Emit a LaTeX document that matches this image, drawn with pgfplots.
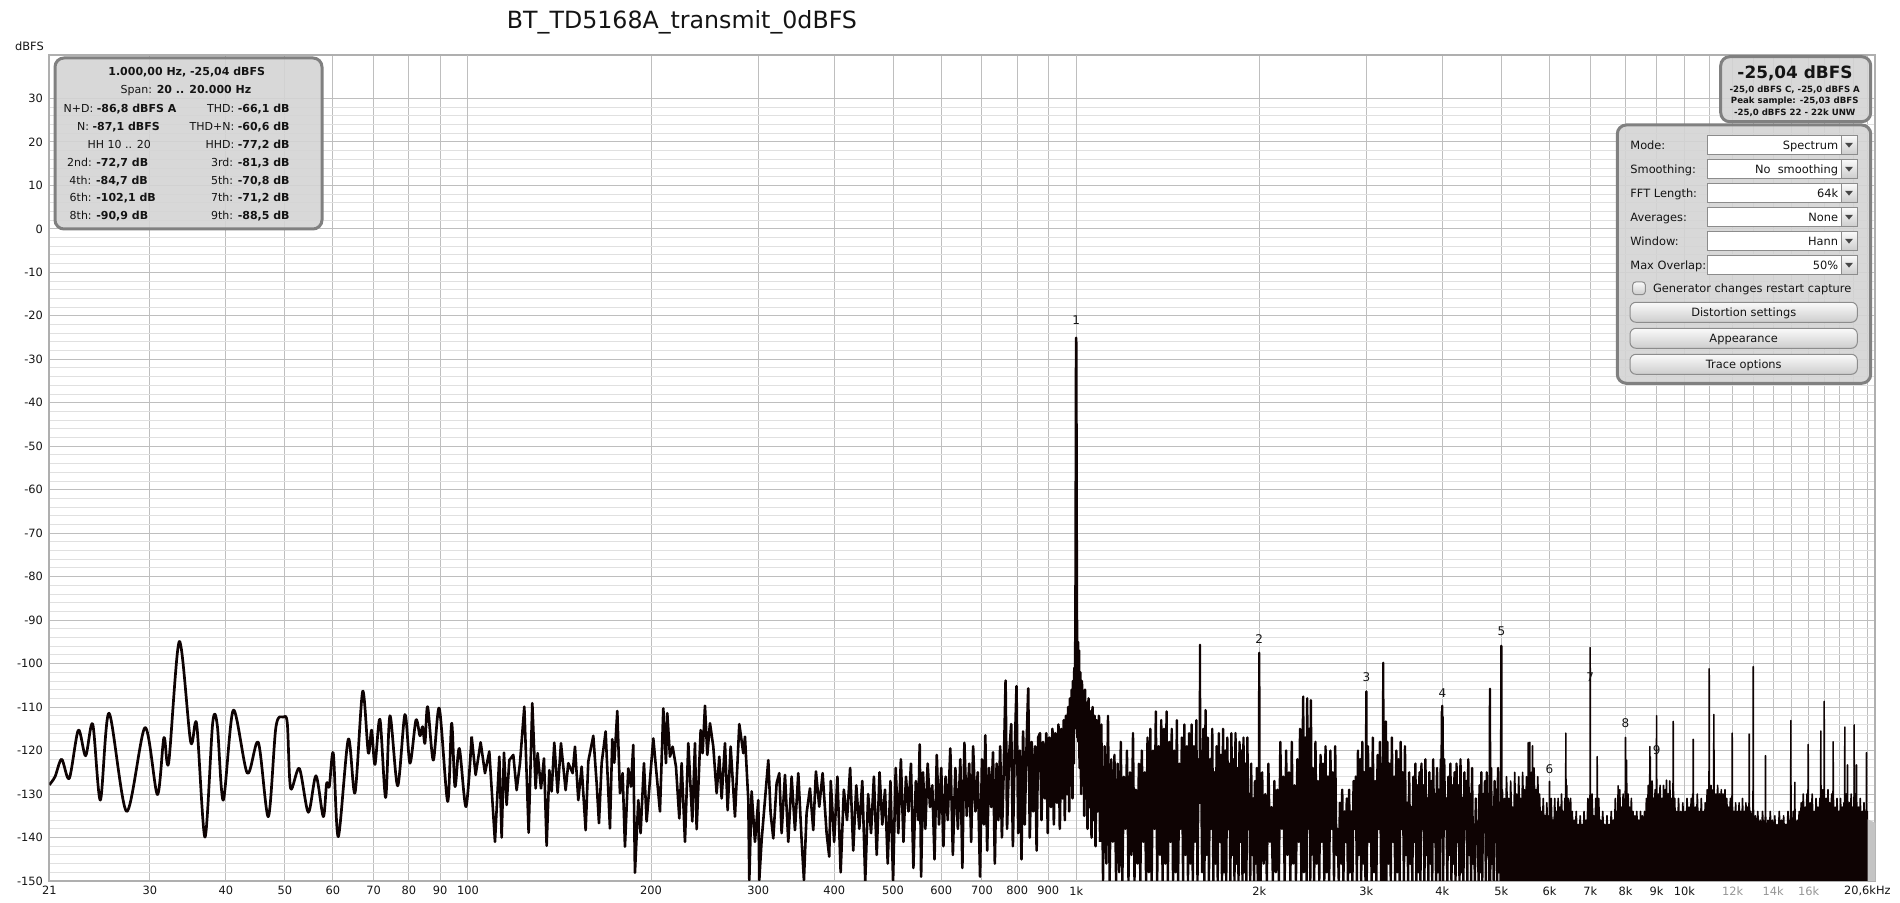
\documentclass[border=0pt]{standalone}
\usepackage{fontspec}
\setmainfont{DejaVu Sans}
\usepackage{pgfplots}
\pgfplotsset{compat=1.18}
\definecolor{txt}{RGB}{20,20,20}
\definecolor{trace}{RGB}{14,3,3}
\definecolor{gridmaj}{RGB}{190,190,190}
\definecolor{gridmin}{RGB}{224,224,224}
\definecolor{griddec}{RGB}{135,135,135}
\definecolor{axln}{RGB}{175,175,175}
\definecolor{boxfill}{RGB}{212,212,212}
\definecolor{boxline}{RGB}{128,128,128}
\definecolor{lbl12}{RGB}{150,150,150}
\definecolor{ddline}{RGB}{140,140,140}
\definecolor{btntop}{RGB}{250,250,250}
\definecolor{btnbot}{RGB}{205,205,205}
\definecolor{arrowc}{RGB}{70,70,70}
\definecolor{beyond}{RGB}{196,196,196}
\newcommand\fs[1]{\fontsize{#1}{#1}\selectfont}
\begin{document}
\begin{tikzpicture}
\useasboundingbox (0,0) rectangle (950pt,451.5pt);
\begin{axis}[
  at={(24.65pt,11pt)}, anchor=south west,
  scale only axis, width=913pt, height=413pt,
  xmode=log, xmin=20.5, xmax=20600, ymin=-150, ymax=40,
  axis line style={draw=axln, line width=1pt},
  xtick={20.5,30,40,50,60,70,80,90,200,300,400,500,600,700,800,900,2000,3000,4000,5000,6000,7000,8000,9000,11000,12000,13000,14000,15000,16000,17000,18000,19000,20000},
  xticklabels={21,30,40,50,60,70,80,90,200,300,400,500,600,700,800,900,2k,3k,4k,5k,6k,7k,8k,9k,{},\textcolor{lbl12}{12k},{},\textcolor{lbl12}{14k},{},\textcolor{lbl12}{16k},{},{},{},{}},
  extra x ticks={100,1000,10000},
  extra x tick labels={100,1k,10k},
  extra x tick style={grid style={griddec, line width=0.5pt}},
  ytick={-150,-140,-130,-120,-110,-100,-90,-80,-70,-60,-50,-40,-30,-20,-10,0,10,20,30},
  yticklabels={-150,-140,-130,-120,-110,-100,-90,-80,-70,-60,-50,-40,-30,-20,-10,0,10,20,30},
  minor y tick num=4,
  xmajorgrids, ymajorgrids, yminorgrids,
  major grid style={gridmaj, line width=0.5pt},
  minor grid style={gridmin, line width=0.5pt},
  major tick length=0pt, minor tick length=0pt,
  tick style={draw=none},
  tick label style={font=\fs{5.7pt}, text=txt},
  yticklabel style={inner xsep=0pt, xshift=-3pt},
  xticklabel style={inner ysep=0pt, yshift=-2.5pt},
]
% 20.5 - 101 Hz (smooth low-frequency part)
\addplot[trace, line width=1.35pt, smooth, tension=0.5, line join=round] coordinates {
(20.50,-127.9)(20.95,-126.0)(21.48,-122.0)(22.11,-126.4)(22.88,-115.3)(23.52,-121.2)(24.16,-113.9)(24.87,-131.4)(25.70,-111.4)(27.47,-134.0)(29.45,-114.7)(30.86,-130.1)(31.64,-117.0)(32.21,-122.8)(33.54,-94.9)(35.01,-118.0)(35.81,-113.9)(36.96,-139.9)(38.05,-113.7)(38.72,-114.1)(39.61,-131.4)(41.14,-110.7)(43.38,-125.2)(45.22,-118.1)(46.97,-135.2)(48.35,-114.5)(49.71,-112.3)(50.47,-113.7)(51.11,-128.7)(52.82,-124.1)(54.65,-134.2)(56.26,-125.8)(57.84,-135.2)(58.58,-127.5)(59.17,-128.3)(60.07,-120.6)(61.22,-139.8)(63.58,-117.4)(65.21,-129.7)(67.13,-106.4)(68.58,-120.5)(69.45,-115.3)(70.34,-123.2)(71.68,-112.8)(73.23,-130.8)(74.45,-112.0)(76.64,-128.1)(78.79,-111.7)(80.30,-122.9)(82.14,-113.0)(83.40,-116.6)(84.24,-114.5)(84.99,-118.3)(85.85,-109.9)(87.71,-122.2)(89.73,-110.3)(92.61,-131.7)(94.02,-113.7)(95.22,-128.3)(96.79,-119.5)(99.27,-132.9)(101.42,-116.8)
};
% 101 Hz - 1.1 kHz
\addplot[trace, line width=1.3pt, line join=round] coordinates {
(101.42,-116.8)(102.96,-125.6)(104.93,-118.1)(106.67,-125.2)(108.43,-120.2)(110.78,-141.0)(112.62,-121.4)(113.62,-140.0)(114.62,-120.5)(115.79,-132.5)(116.96,-122.2)(118.74,-121.0)(120.25,-129.1)(121.78,-122.9)(123.79,-109.9)(125.84,-138.9)(127.60,-109.1)(129.22,-128.7)(130.20,-120.6)(131.86,-128.7)(133.36,-121.8)(134.71,-141.9)(136.08,-124.5)(137.29,-129.4)(138.68,-118.2)(140.44,-129.7)(142.22,-118.3)(144.76,-129.1)(146.23,-122.9)(148.65,-125.2)(149.97,-119.1)(151.87,-131.4)(153.80,-123.7)(156.15,-138.3)(157.73,-122.5)(160.75,-116.6)(162.79,-127.5)(164.23,-136.7)(165.90,-122.9)(168.43,-115.6)(171.21,-137.9)(172.73,-117.4)(174.05,-122.8)(176.03,-110.9)(177.82,-129.8)(179.62,-125.2)(181.22,-142.1)(183.52,-124.1)(185.38,-128.3)(187.03,-118.7)(188.21,-148.1)(190.60,-131.4)(192.29,-139.0)(194.73,-122.9)(196.71,-136.3)(199.20,-126.8)(201.73,-117.2)(206.89,-134.0)(209.52,-110.3)(211.64,-122.9)(212.71,-111.4)(214.87,-121.4)(217.05,-119.1)(219.81,-123.7)(222.60,-135.6)(224.57,-122.9)(227.42,-141.0)(230.31,-118.3)(233.83,-136.3)(236.20,-118.3)(237.69,-138.1)(241.32,-115.3)(243.15,-120.6)(245.31,-109.7)(247.49,-121.0)(250.00,-113.7)(253.17,-119.1)(256.39,-129.8)(258.99,-121.4)(261.29,-131.0)(264.61,-118.3)(267.29,-133.7)(270.34,-119.1)(274.81,-135.2)(279.36,-113.9)(283.62,-120.6)(285.42,-116.8)(289.04,-131.4)(290.14,-149.8)(292.71,-129.4)(296.43,-141.0)(300.19,-131.4)(301.33,-149.8)(304.00,-140.6)(307.86,-131.4)(311.78,-122.2)(314.54,-134.4)(317.73,-140.2)(321.77,-127.5)(325.03,-125.2)(327.91,-139.0)(332.08,-125.6)(336.30,-141.0)(340.56,-126.0)(344.89,-138.3)(349.27,-125.2)(353.70,-140.6)(356.84,-149.8)(360.46,-134.4)(365.04,-128.7)(369.67,-138.3)(373.42,-124.8)(378.16,-132.9)(382.97,-125.2)(388.81,-139.0)(392.76,-144.4)
(395,-127)(400,-141)(405,-126)(410,-148)(415,-129)(420,-136)(425,-124)(430,-143)(435,-128)(440,-138)(445,-127)(450,-150)(455,-130)(460,-139)(465,-126)(470,-144)(475,-125)(480,-137)(485,-129)(490,-146)(495,-127)(500,-150)(505,-124)(510,-139)(515,-122)(520,-141)(525,-126)(530,-134)(535,-123)(540,-147)(545,-127)(550,-136)(553,-118.6)(556,-149)(560,-125)(565,-138)(570,-123)(575,-133)(580,-128)(585,-145)(590,-121)(595,-137)(600,-124)
(605,-142)(610,-126)(615,-136)(621,-119.5)(627,-144)(633,-124)(639,-138)(645,-122)(650,-147)(655,-118.2)(661,-135)(667,-123)(672,-141)(677,-119)(683,-134)(689,-125)(695,-149)(700,-122)(705,-137)(709,-116.5)(714,-143)(719,-124)(725,-133)(730,-120.4)(735,-146)(740,-123)(745,-136)(750,-119)(755,-140)(760,-125)(765.6,-103.9)(770,-138)(776,-121)(782,-113.9)(787,-142)(792,-122)(798,-105.2)(803,-139)(808,-120)(813,-145)(818,-115.6)(823,-137)(828,-121)(834,-105.7)(839,-140)(845,-118)(850,-134)(856,-119)(861,-143)(866,-117)(872,-116)(877,-136)(882,-118)(888,-131)(893,-116)(898,-139)(903,-117)(909,-133)(914,-115)(919,-137)(924,-116)(930,-132)(935,-114)(940,-138)(945,-115)(950,-131)(954,-113)(958,-136)(962,-112)(966,-130)(970,-110)(974,-134)(977,-108)(980,-128)(983,-106)(986,-131)(988,-104)(991,-123)(993,-101)(995,-115)(996.5,-97)(997.5,-85)(998.5,-60)(999.3,-35)(1000,-25.04)(1000.7,-35)(1001.5,-60)(1002.5,-85)(1003.5,-97)
(1005,-117)(1007,-95)(1009,-118)(1011,-97)(1013,-124)(1016,-102)(1019,-130)(1022,-104)(1025,-127)(1028,-107)(1031,-135)(1034,-106)(1037,-131)(1040,-109)(1044,-138)(1048,-108)(1052,-133)(1056,-111)(1060,-140)(1064,-110)(1068,-136)(1072,-112)(1076,-142)(1080,-113)(1085,-134)(1090,-112)(1095,-141)
};
% 1.1 kHz - 5 kHz
\addplot[trace, line width=1.2pt, line join=round] coordinates {
(1095,-141)(1100,-114)(1107,-150)(1114,-119)(1121,-146)(1128,-112)(1135,-150)(1142,-122)(1149,-141)(1156,-121)(1163,-150)(1170,-123)(1177,-148)(1184,-118)(1191,-150)(1198,-126)(1205,-138)(1212,-120)(1219,-150)(1226,-125)(1233,-144)(1240,-116)(1247,-150)(1254,-129)(1261,-146)(1268,-123)(1275,-150)(1282,-120)(1289,-141)(1296,-125)(1303,-150)(1310,-117)(1317,-148)(1324,-115)(1331,-150)(1338,-120)(1345,-138)(1352,-111)(1359,-150)(1366,-119)(1373,-144)(1380,-113)(1387,-150)(1394,-115)(1401,-146)(1408,-111)(1415,-150)(1422,-118)(1429,-141)(1436,-115)(1443,-150)(1450,-120)(1457,-148)(1464,-113)(1471,-150)(1478,-123)(1485,-138)(1492,-117)(1499,-150)(1506,-114)(1513,-144)(1520,-119)(1527,-150)(1534,-116)(1541,-146)(1548,-114)(1555,-150)(1562,-119)(1569,-141)(1576,-113)(1583,-150)(1590,-122)(1597,-132)(1598,-95.7)(1599,-130)(1604,-120)(1611,-148)(1618,-115)(1625,-150)(1632,-110.7)(1639,-144)(1646,-117)(1653,-150)(1660,-122)(1667,-138)(1674,-115)(1681,-150)(1688,-125)(1695,-146)(1702,-119)(1709,-150)(1716,-116)(1723,-141)(1730,-121)(1737,-150)(1744,-115)(1751,-148)(1758,-120)(1765,-150)(1772,-117)(1779,-138)(1786,-123)(1793,-150)(1800,-116)(1807,-144)(1814,-122)(1821,-150)(1828,-116)(1835,-146)(1842,-124)(1849,-150)(1856,-118)(1863,-141)(1870,-120)(1877,-150)(1884,-117)(1891,-148)(1898,-123)(1905,-150)(1912,-117)(1919,-138)(1926,-130)(1933,-150)(1940,-123)(1947,-144)(1954,-131)(1961,-150)(1968,-127)(1975,-146)(1982,-124)(1989,-150)(1995,-129)(1998,-140)(2000,-97.5)(2002,-150)
(2010,-150)(2022,-125)(2034,-146)(2046,-130)(2058,-150)(2070,-123)(2082,-141)(2094,-133)(2106,-150)(2118,-127)(2130,-148)(2142,-129)(2154,-150)(2166,-118)(2178,-138)(2190,-126)(2202,-150)(2214,-120)(2226,-144)(2238,-125)(2250,-150)(2262,-118)(2274,-146)(2286,-128)(2298,-150)(2310,-122)(2322,-141)(2334,-115)(2346,-150)(2356,-120)(2362,-107.6)(2368,-148)(2380,-117)(2392,-150)(2398,-108)(2404,-138)(2416,-115)(2426,-150)(2432,-108.4)(2438,-144)(2450,-124)(2462,-150)(2474,-118)(2486,-146)(2498,-127)(2510,-150)(2522,-121)(2534,-141)(2546,-123)(2558,-150)(2570,-119)(2582,-148)(2594,-126)(2606,-150)(2618,-120)(2630,-138)(2642,-125)(2654,-150)(2666,-119)(2678,-144)(2690,-138)(2702,-150)(2714,-132)(2726,-146)(2738,-129)(2750,-150)(2762,-134)(2774,-141)(2786,-131)(2798,-150)(2810,-129)(2822,-148)(2834,-134)(2846,-150)(2858,-127)(2870,-138)(2882,-126)(2894,-150)(2906,-120)(2918,-144)(2930,-122)(2942,-150)(2954,-118)(2966,-146)(2978,-125)(2990,-150)(2996,-121)(3000,-106.4)(3004,-150)
(3018,-119)(3032,-141)(3046,-124)(3060,-150)(3074,-117)(3088,-148)(3102,-127)(3116,-150)(3130,-121)(3144,-138)(3158,-118)(3172,-150)(3186,-123)(3194,-146)(3198,-99.8)(3202,-150)(3214,-120)(3226,-144)(3231,-113.3)(3236,-150)(3248,-118)(3262,-146)(3276,-123)(3290,-150)(3304,-117)(3318,-141)(3332,-126)(3346,-150)(3360,-120)(3374,-148)(3388,-122)(3402,-150)(3416,-118)(3430,-138)(3444,-125)(3458,-150)(3472,-119)(3486,-144)(3500,-132)(3514,-150)(3528,-125)(3542,-146)(3556,-133)(3570,-150)(3584,-126)(3598,-141)(3612,-123)(3626,-150)(3640,-128)(3654,-148)(3668,-125)(3682,-150)(3696,-123)(3710,-138)(3724,-128)(3738,-150)(3752,-122)(3766,-144)(3780,-131)(3794,-150)(3808,-125)(3822,-146)(3836,-127)(3850,-150)(3864,-122)(3878,-141)(3892,-130)(3906,-150)(3920,-124)(3934,-148)(3948,-129)(3962,-150)(3976,-122)(3986,-140)(3992,-111)(3996,-125)(3998,-109.7)(4001,-122)(4005,-112.2)(4012,-150)
(4028,-122)(4044,-138)(4060,-131)(4076,-150)(4092,-126)(4108,-144)(4124,-123)(4140,-150)(4156,-128)(4172,-146)(4188,-125)(4204,-150)(4220,-123)(4236,-141)(4252,-128)(4268,-150)(4284,-122)(4300,-148)(4316,-131)(4332,-150)(4348,-125)(4364,-138)(4380,-127)(4396,-150)(4412,-122)(4428,-144)(4444,-130)(4460,-150)(4476,-124)(4492,-146)(4508,-137)(4524,-150)(4540,-131)(4556,-141)(4572,-138)(4588,-150)(4604,-128)(4620,-148)(4636,-125)(4652,-150)(4668,-130)(4684,-138)(4700,-127)(4716,-150)(4732,-125)(4748,-144)(4764,-130)(4780,-150)(4786,-128)(4790,-105.8)(4794,-150)(4810,-124)(4826,-146)(4842,-133)(4858,-150)(4874,-127)(4890,-141)(4906,-129)(4922,-150)(4938,-124)(4954,-148)(4970,-132)(4986,-150)(4996,-128)(5000,-95.9)(5004,-150)(5010,-150)
};
% 5 kHz - 20 kHz: dense floor with spurs
\addplot[trace, fill=trace, line width=0.8pt, line join=round] coordinates {
(5010,-150)(5020,-129)(5040,-136)(5060,-131)(5080,-137)(5100,-126)(5120,-135)(5140,-131)(5160,-138)(5180,-127)(5200,-136)(5220,-133)(5240,-138)(5260,-125)(5280,-135)(5300,-130)(5320,-137)(5340,-126)(5360,-134)(5380,-131)(5400,-136)(5420,-125)(5440,-134)(5460,-129)(5480,-137)(5500,-126)(5518,-135)
(5534,-130)(5537,-118.2)(5540,-130)(5552,-136)(5567,-128)(5570,-118.1)(5573,-128)(5590,-134)(5605,-125)(5615,-133)(5624,-129)(5627,-118.9)(5630,-128)(5645,-135)(5660,-124)(5680,-134)(5700,-129)(5720,-136)(5740,-126)(5760,-135)(5780,-130)(5800,-138)
(5820,-134)(5840,-139)(5860,-131)(5880,-138)(5900,-135)(5920,-140)(5940,-132)(5960,-139)(5980,-135)(5997,-136)(6000,-127.1)(6003,-136)(6020,-139)(6040,-131)(6060,-139)(6080,-136)(6100,-140)
(6120,-131)(6140,-138)(6160,-134)(6180,-139)(6200,-131)(6220,-138)(6240,-133)(6260,-139)(6280,-130)(6300,-137)(6320,-134)(6340,-139)(6360,-131)(6380,-136)(6384,-116)(6388,-136)(6405,-128)(6420,-137)(6440,-131)(6460,-138)(6480,-133)(6500,-131)(6520,-139)(6540,-134)(6565,-140)
(6590,-136)(6615,-140)(6640,-134)(6665,-141)(6690,-137)(6715,-141)(6740,-135)(6765,-140)(6790,-137)(6815,-141)(6840,-134)(6865,-140)(6890,-136)(6915,-139)
(6940,-131)(6970,-138)(6996,-133)(7000,-96.3)(7004,-133)(7025,-138)(7050,-130)(7075,-138)(7100,-135)(7125,-139)(7150,-131)(7170,-138)(7184,-133)(7188,-121.4)(7192,-133)(7210,-139)(7230,-131)(7255,-139)
(7280,-136)(7310,-141)(7340,-134)(7370,-140)(7400,-137)(7430,-141)(7460,-135)(7490,-140)(7520,-137)(7550,-141)(7580,-134)(7610,-140)(7640,-136)(7670,-140)
(7700,-131)(7725,-138)(7750,-134)(7765,-139)(7778,-131)(7782,-128.1)(7786,-132)(7808,-138)(7830,-129)(7855,-137)(7880,-133)(7905,-139)(7930,-130)(7950,-137)(7970,-132)(7985,-137)(7996,-129)(8000,-117)(8004,-128)(8016,-135)(8028,-127)(8032,-122.2)(8036,-127)(8058,-136)(8080,-130)(8105,-138)(8130,-133)(8155,-139)(8180,-131)(8205,-138)(8230,-134)(8260,-140)
(8290,-135)(8320,-140)(8350,-134)(8380,-140)(8410,-136)(8440,-141)(8470,-134)(8500,-140)(8530,-135)(8565,-140)(8600,-134)(8630,-139)(8660,-131)(8690,-138)
(8720,-128)(8745,-136)(8770,-130)(8774,-119.1)(8778,-128)(8786,-130)(8790,-121.4)(8794,-130)(8820,-137)(8850,-127)(8875,-136)(8900,-131)(8925,-138)(8950,-129)(8975,-136)(8996,-127)(9000,-112)(9004,-127)(9030,-137)(9060,-130)(9090,-138)(9120,-128)(9150,-136)(9180,-131)(9210,-138)(9240,-128)(9270,-136)(9300,-129)(9325,-135)(9341,-129)(9345,-126.8)(9349,-129)(9370,-137)(9400,-130)(9430,-138)(9460,-127)(9490,-136)(9520,-131)(9550,-138)(9580,-127)(9584,-113.3)(9588,-127)(9610,-137)(9640,-131)(9670,-139)(9700,-134)(9740,-140)
(9780,-131)(9820,-139)(9860,-134)(9900,-140)(9940,-132)(9980,-139)(10020,-134)(10060,-140)(10100,-131)(10140,-138)(10180,-133)(10220,-139)(10260,-131)(10290,-138)(10320,-130)(10334,-131)(10338,-117.4)(10342,-131)(10380,-138)(10420,-133)(10460,-139)(10500,-130)(10540,-138)(10580,-134)(10620,-140)(10660,-131)(10700,-139)(10740,-134)(10780,-140)(10820,-132)(10860,-138)(10900,-129)(10940,-137)
(10976,-130)(10983,-101.2)(10990,-130)(11025,-137)(11060,-128)(11100,-136)(11140,-129)(11160,-135)(11172,-128)(11179,-111.7)(11186,-128)(11220,-137)(11260,-130)(11300,-137)(11340,-128)(11380,-136)(11420,-130)(11460,-137)(11500,-129)(11540,-136)(11580,-130)(11620,-137)(11660,-129)(11700,-137)(11740,-131)(11780,-139)
(11820,-133)(11860,-139)(11900,-131)(11940,-138)(11975,-132)(11982,-116)(11989,-132)(12025,-139)(12060,-134)(12100,-140)(12140,-132)(12180,-139)(12220,-134)(12260,-140)(12300,-132)(12340,-139)(12380,-134)(12420,-140)(12460,-131)(12500,-139)(12540,-134)(12580,-140)(12620,-132)(12660,-139)(12700,-133)(12740,-139)(12772,-132)(12779,-116.2)(12786,-132)(12820,-139)(12860,-134)(12910,-140)(12966,-133)(12974,-100.7)(12982,-133)(13030,-140)
(13080,-135)(13140,-141)(13200,-134)(13260,-140)(13320,-136)(13380,-141)(13440,-134)(13510,-140)(13586,-135)(13593,-121.2)(13600,-135)(13660,-141)(13720,-136)(13780,-141)(13840,-134)(13900,-140)(13960,-136)(14020,-141)(14080,-135)(14140,-141)(14200,-137)(14260,-141)(14320,-134)(14380,-140)(14440,-136)(14500,-141)(14560,-135)(14620,-141)(14680,-137)(14740,-141)(14800,-134)(14880,-140)(14954,-135)(14962,-113.1)(14970,-135)(15035,-141)(15100,-134)(15140,-140)(15182,-135)(15190,-127.3)(15198,-135)(15260,-141)(15320,-136)(15380,-141)(15440,-134)(15500,-140)
(15560,-132)(15620,-139)(15680,-130)(15740,-138)(15800,-133)(15850,-139)(15900,-130)(15935,-137)(15968,-131)(15976,-118.6)(15984,-131)(16040,-138)(16100,-132)(16160,-139)(16220,-130)(16280,-138)(16340,-134)(16400,-140)(16460,-131)(16520,-139)(16580,-133)(16640,-139)(16700,-131)(16730,-137)(16753,-130)(16761,-115.5)(16769,-130)(16830,-138)(16890,-129)(16930,-137)(16966,-129)(16974,-108.7)(16982,-130)(17040,-138)(17100,-131)(17160,-139)(17220,-129)(17280,-137)(17340,-132)(17400,-139)(17460,-130)(17510,-138)(17554,-130)(17562,-118)(17570,-130)(17635,-138)(17700,-133)(17760,-140)(17820,-131)(17880,-139)(17940,-134)(18000,-140)(18060,-131)(18120,-139)(18180,-133)(18240,-139)(18300,-132)(18325,-137)(18347,-131)(18355,-114.6)(18363,-131)(18405,-138)(18450,-130)(18490,-138)(18533,-131)(18541,-123.3)(18549,-131)(18615,-139)(18680,-132)(18740,-139)(18800,-130)(18860,-138)(18920,-133)(18965,-139)(19007,-131)(19015,-114.1)(19023,-131)(19060,-138)(19100,-130)(19140,-137)(19176,-131)(19184,-123.3)(19192,-131)(19255,-139)(19320,-133)(19390,-140)(19460,-131)(19530,-139)(19600,-134)(19670,-140)(19740,-132)(19800,-139)(19860,-134)(19890,-139)(19916,-133)(19924,-120.5)(19932,-133)(19965,-139)(19990,-134)(20000,-150)
};
% beyond the 20 kHz analysis span
\addplot[fill=beyond, draw=none] coordinates {(20000,-150)(20000,-135.8)(20300,-136.2)(20600,-136.6)(20600,-150)};
% harmonic numbers
\foreach \f/\d/\n in {1000/-21.1/1, 2000/-94.4/2, 3000/-103.2/3, 4000/-106.7/4, 5000/-92.6/5, 6000/-124.2/6, 7000/-103.2/7, 8000/-113.7/8, 9000/-120.0/9}{
  \edef\tmp{\noexpand\node[font=\noexpand\fs{6pt}, text=txt, inner sep=0pt] at (axis cs:\f,\d) {\n};}\tmp
}
\end{axis}
% overlays (pixel coordinates, origin top-left)
\begin{scope}[shift={(0pt,451.5pt)}, x=0.5pt, y=-0.5pt]
\tikzset{bx/.style={inner sep=0pt, font=\fs{5.5pt}, text=txt},
         bp/.style={inner sep=0pt, font=\fs{5.7pt}, text=txt},
         panel/.style={fill=boxfill, fill opacity=0.9, draw=boxline, line width=1.5pt, rounded corners=4.5pt}}
\node[anchor=base, inner sep=0pt, font=\fs{11.85pt}, text=txt] at (682,28.5) {BT\_TD5168A\_transmit\_0dBFS};
\node[anchor=base, bp] at (29.5,50.2) {dBFS};
\node[anchor=base east, bp] at (1891,895) {20,6kHz};
% info box
\draw[panel] (55,58) rectangle (322,229);
\node[bx, anchor=base] at (186.7,75.7) {\textbf{1.000,00 Hz, -25,04 dBFS}};
\node[bx, anchor=base] at (186,94) {Span: \textbf{20 .. 20.000 Hz}};
\node[bx, anchor=base west] at (63.3,112.3) {N+D: \textbf{-86,8 dBFS A}};
\node[bx, anchor=base west] at (76.7,130.7) {N: \textbf{-87,1 dBFS}};
\node[bx, anchor=base west] at (87.3,148.3) {HH 10 .. 20};
\node[bx, anchor=base west] at (66.7,166.7) {2nd: \textbf{-72,7 dB}};
\node[bx, anchor=base west] at (69,184.3) {4th: \textbf{-84,7 dB}};
\node[bx, anchor=base west] at (69.3,202) {6th: \textbf{-102,1 dB}};
\node[bx, anchor=base west] at (69.3,220) {8th: \textbf{-90,9 dB}};
\node[bx, anchor=base east] at (290,112.3) {THD: \textbf{-66,1 dB}};
\node[bx, anchor=base east] at (290,130.7) {THD+N: \textbf{-60,6 dB}};
\node[bx, anchor=base east] at (290,148.3) {HHD: \textbf{-77,2 dB}};
\node[bx, anchor=base east] at (290,166.7) {3rd: \textbf{-81,3 dB}};
\node[bx, anchor=base east] at (290,184.3) {5th: \textbf{-70,8 dB}};
\node[bx, anchor=base east] at (290,202) {7th: \textbf{-71,2 dB}};
\node[bx, anchor=base east] at (290,220) {9th: \textbf{-88,5 dB}};
% level box
\draw[panel] (1720.7,56.7) rectangle (1870.7,121.7);
\node[anchor=base, inner sep=0pt, font=\fs{8.45pt}\bfseries, text=txt] at (1795,78.9) {-25,04 dBFS};
\node[anchor=base, inner sep=0pt, font=\fs{4.3pt}\bfseries, text=txt] at (1794.7,92.1) {-25,0 dBFS C, -25,0 dBFS A};
\node[anchor=base, inner sep=0pt, font=\fs{4.3pt}\bfseries, text=txt] at (1794.7,103.8) {Peak sample: -25,03 dBFS};
\node[anchor=base, inner sep=0pt, font=\fs{4.3pt}\bfseries, text=txt] at (1794.7,115.4) {-25,0 dBFS 22 - 22k UNW};
% settings panel
\draw[panel] (1617.3,125) rectangle (1870.7,383.3);
\foreach \yc/\lab/\val in {145/Mode:/Spectrum, 169/Smoothing:/No\ \ smoothing, 193/FFT Length:/64k, 217/Averages:/None, 241/Window:/Hann, 265/Max Overlap:/50\%}{
  \draw[fill=white, draw=ddline, line width=0.5pt] (1707.3,\yc-9.3) rectangle (1857.3,\yc+9.3);
  \draw[top color=btntop, bottom color=btnbot, draw=ddline, line width=0.5pt] (1841,\yc-9.3) rectangle (1857.3,\yc+9.3);
  \fill[arrowc] (1845.2,\yc-2) -- (1852.8,\yc-2) -- (1849,\yc+2.6) -- cycle;
  \node[bp, anchor=base west] at (1630,\yc+4.2) {\lab};
  \node[bp, anchor=base east] at (1838.5,\yc+4.2) {\val};
}
\draw[top color=btntop, bottom color=btnbot, draw=ddline, line width=0.5pt, rounded corners=1.5pt] (1632.7,282) rectangle (1645.3,294.6);
\node[bp, anchor=base west] at (1652.7,292.5) {Generator changes restart capture};
\foreach \ya/\lab in {302.3/Distortion settings, 328.3/Appearance, 354.3/Trace options}{
  \draw[top color=btntop, bottom color=btnbot, draw=ddline, line width=0.5pt, rounded corners=3pt] (1630,\ya) rectangle (1857.3,\ya+20);
  \node[bp, anchor=base] at (1743.7,\ya+14.2) {\lab};
}
\end{scope}
\end{tikzpicture}
\end{document}
